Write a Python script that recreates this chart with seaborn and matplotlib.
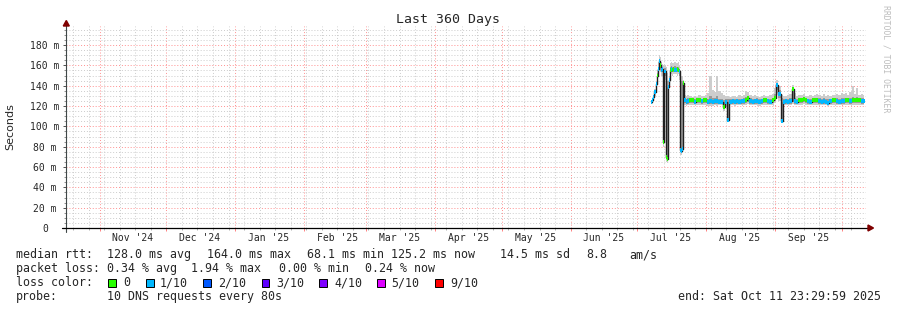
import pandas as pd
import matplotlib
matplotlib.use("Agg")
import matplotlib.pyplot as plt
import matplotlib.dates as mdates
from matplotlib.lines import Line2D
from matplotlib.patches import Polygon, Rectangle
from matplotlib.ticker import FixedLocator, MultipleLocator
import seaborn as sns

# ---------------- data ----------------
END_TIME = "2025-10-11 23:29:59"
SPAN_DAYS = 360
TITLE = "Last 360 Days"
Y_LABEL = "Seconds"
WATERMARK = "RRDTOOL / TOBI OETIKER"

# 12-hourly samples at the start of the measurements
early_start = "2025-07-07 11:30"
early_median = [124, 126, 129, 134, 142, 150, 156, 164, 160, 155,
                156, 85, 154, 70, 68, 139, 146, 155, 156, 155,
                156, 155, 155, 156, 155, 154, 77, 76, 78, 143,
                126, 124]
early_loss = [1, 1, 1, 1, 1, 0, 1, 1, 0, 1,
              1, 0, 1, 0, 0, 1, 1, 0, 1, 0,
              0, 1, 1, 0, 0, 1, 1, 1, 1, 0,
              1, 1]
early_outer_hi = [126, 128, 131, 137, 145, 155, 163, 170, 168, 163,
                  161, 160, 160, 158, 152, 145, 150, 162, 163, 162,
                  162, 163, 162, 162, 163, 160, 155, 150, 150, 146,
                  131, 130]
early_inner_hi = [125, 127, 130, 135, 143, 152, 158, 166, 164, 159,
                  158, 155, 157, 150, 145, 141, 148, 158, 159, 158,
                  158, 159, 158, 158, 158, 156, 150, 145, 145, 144,
                  128, 127]
early_inner_lo = [123, 124, 127, 132, 140, 147, 153, 160, 157, 153,
                  153, 83, 150, 68, 66, 137, 143, 153, 153, 153,
                  153, 153, 153, 153, 153, 150, 75, 74, 76, 141,
                  123, 122]
early_outer_lo = [122, 122, 126, 130, 138, 145, 150, 156, 153, 150,
                  150, 80, 146, 65, 64, 134, 140, 151, 151, 150,
                  151, 151, 151, 150, 151, 146, 72, 72, 74, 139,
                  121, 120]

# daily samples afterwards
late_start = "2025-07-23 23:30"
late_median = [125, 126, 126, 124, 126, 126, 125, 126, 126, 124,
               125, 124, 125, 125, 124, 124, 119, 124, 106, 124,
               125, 124, 125, 124, 125, 125, 126, 128, 125, 124,
               125, 125, 124, 125, 126, 126, 125, 124, 126, 128,
               141, 132, 105, 124, 125, 124, 125, 137, 125, 124,
               126, 126, 127, 126, 125, 124, 126, 126, 126, 125,
               124, 125, 124, 123, 125, 126, 126, 125, 124, 125,
               125, 126, 126, 125, 126, 126, 126, 126, 125, 125]
late_loss = [1, 0, 0, 1, 0, 0, 1, 0, 0, 1,
             1, 1, 1, 1, 1, 1, 0, 1, 1, 1,
             1, 1, 1, 1, 1, 1, 0, 0, 1, 1,
             1, 1, 1, 1, 0, 0, 1, 1, 0, 0,
             1, 1, 1, 1, 1, 1, 1, 0, 1, 1,
             0, 0, 0, 0, 1, 1, 0, 0, 0, 1,
             1, 1, 1, 1, 1, 0, 0, 1, 1, 1,
             1, 0, 0, 1, 0, 0, 0, 0, 1, 1]
late_outer_hi = [131, 130, 129, 130, 129, 131, 130, 130, 131, 133,
                 150, 136, 134, 150, 135, 133, 131, 130, 130, 129,
                 130, 130, 129, 131, 130, 131, 135, 134, 131, 130,
                 131, 130, 129, 130, 131, 130, 130, 131, 132, 138,
                 146, 140, 131, 130, 130, 131, 132, 141, 133, 130,
                 131, 131, 132, 130, 130, 131, 130, 131, 132, 131,
                 130, 132, 130, 131, 130, 131, 131, 132, 131, 133,
                 132, 133, 131, 134, 140, 132, 138, 131, 132, 131]
late_inner_hi = [128, 128, 128, 127, 128, 128, 127, 128, 128, 127,
                 130, 128, 128, 130, 127, 127, 126, 127, 127, 127,
                 127, 127, 127, 127, 127, 128, 129, 130, 128, 127,
                 127, 128, 127, 127, 128, 128, 127, 127, 128, 132,
                 143, 136, 128, 127, 127, 127, 128, 139, 128, 127,
                 128, 128, 129, 128, 127, 127, 128, 128, 128, 128,
                 127, 128, 127, 127, 127, 128, 128, 128, 127, 128,
                 128, 128, 128, 128, 129, 128, 129, 128, 128, 128]
late_inner_lo = [122, 123, 123, 122, 123, 123, 122, 123, 123, 122,
                 122, 122, 122, 122, 122, 122, 117, 122, 105, 122,
                 122, 122, 122, 122, 122, 122, 123, 124, 122, 122,
                 122, 122, 122, 122, 123, 123, 122, 122, 123, 125,
                 136, 128, 104, 122, 122, 122, 122, 124, 122, 122,
                 123, 123, 124, 123, 122, 122, 123, 123, 123, 122,
                 122, 122, 122, 121, 122, 123, 123, 122, 122, 122,
                 122, 123, 123, 122, 123, 123, 123, 123, 122, 122]
late_outer_lo = [121, 121, 121, 121, 121, 121, 121, 121, 121, 120,
                 120, 120, 121, 120, 121, 121, 115, 121, 104, 121,
                 121, 120, 121, 121, 121, 121, 121, 122, 121, 121,
                 121, 121, 120, 121, 121, 121, 121, 121, 121, 123,
                 133, 125, 103, 121, 121, 121, 121, 122, 121, 121,
                 121, 121, 122, 121, 121, 121, 121, 121, 121, 121,
                 121, 121, 121, 120, 121, 121, 121, 121, 121, 121,
                 121, 121, 121, 121, 121, 121, 121, 121, 121, 121]

ytick_values = [0, 20, 40, 60, 80, 100, 120, 140, 160, 180]
ytick_labels = ["0", "20 m", "40 m", "60 m", "80 m", "100 m", "120 m",
                "140 m", "160 m", "180 m"]
month_label_dates = ["2024-11-16", "2024-12-16", "2025-01-16", "2025-02-16",
                     "2025-03-16", "2025-04-16", "2025-05-16", "2025-06-16",
                     "2025-07-16", "2025-08-16", "2025-09-16"]
month_labels = ["Nov '24", "Dec '24", "Jan '25", "Feb '25", "Mar '25", "Apr '25",
                "May '25", "Jun '25", "Jul '25", "Aug '25", "Sep '25"]

loss_labels = ["0", "1/10", "2/10", "3/10", "4/10", "5/10", "9/10"]
loss_colors = ["#26ff00", "#00b8ff", "#0059ff", "#5e00ff", "#7e00ff", "#dd00ff", "#ff0000"]

rtt_items = ["128.0 ms avg", "164.0 ms max", "68.1 ms min", "125.2 ms now",
             "14.5 ms sd", "8.8", "am/s"]
pl_items = ["0.34 % avg", "1.94 % max", "0.00 % min", "0.24 % now"]
probe_text = "10 DNS requests every 80s"
end_text = "end: Sat Oct 11 23:29:59 2025"

# ---------------- frame ----------------
early_t = pd.date_range(early_start, periods=len(early_median), freq="12h")
late_t = pd.date_range(late_start, periods=len(late_median), freq="D")
df = pd.DataFrame({
    "t": mdates.date2num(early_t.append(late_t).to_pydatetime()),
    "median": early_median + late_median,
    "loss": early_loss + late_loss,
    "o_hi": early_outer_hi + late_outer_hi,
    "i_hi": early_inner_hi + late_inner_hi,
    "i_lo": early_inner_lo + late_inner_lo,
    "o_lo": early_outer_lo + late_outer_lo,
    "w": [0.5] * len(early_median) + [1.0] * len(late_median),
})

end = pd.Timestamp(END_TIME)
start = end - pd.Timedelta(days=SPAN_DAYS)
x0, x1 = mdates.date2num(start.to_pydatetime()), mdates.date2num(end.to_pydatetime())

# ---------------- style ----------------
sns.set_style("white")
plt.rcParams["font.family"] = ["DejaVu Sans Mono", "DejaVu Sans"]

W_PX, H_PX = 897, 310


def fx(x):
    return x / W_PX


def fy(y):
    return 1 - y / H_PX


fig = plt.figure(figsize=(W_PX / 100, H_PX / 100), dpi=100)
fig.patch.set_facecolor("white")
AX_L, AX_R, AX_T, AX_B = 66.3, 866.1, 26.2, 228.0
ax = fig.add_axes([fx(AX_L), fy(AX_B), (AX_R - AX_L) / W_PX, (AX_B - AX_T) / H_PX])
ax.set_facecolor("white")

# smoke
ax.fill_between(df["t"], df["o_lo"], df["o_hi"], step="mid", color="#cdcdcd", lw=0, zorder=2)
ax.fill_between(df["t"], df["i_lo"], df["i_hi"], step="mid", color="#9a9a9a", lw=0, zorder=3)
# median line
sns.lineplot(x=df["t"], y=df["median"], ax=ax, color="#202020", linewidth=1.0,
             drawstyle="steps-mid", estimator=None, sort=False, legend=False, zorder=4)
# loss coloured median markers
MARK_H = 3.8
ax.bar(df["t"], MARK_H, bottom=df["median"] - MARK_H / 2, width=df["w"],
       color=[loss_colors[k] for k in df["loss"]], lw=0, zorder=5)

ax.set_xlim(x0, x1)
ax.set_ylim(0, 198.5)
ax.set_xlabel("")
ax.set_ylabel("")
for s in ax.spines.values():
    s.set_visible(False)

# grid
month_starts = pd.date_range("2024-11-01", "2025-10-01", freq="MS")
sundays = pd.date_range("2024-10-20", "2025-10-11", freq="W-SUN")
ax.xaxis.set_major_locator(FixedLocator(mdates.date2num(month_starts.to_pydatetime())))
ax.xaxis.set_minor_locator(FixedLocator(mdates.date2num(sundays.to_pydatetime())))
ax.set_yticks(ytick_values)
ax.set_yticklabels(ytick_labels)
ax.yaxis.set_minor_locator(MultipleLocator(5))
ax.grid(True, which="major", color="#ff9090", ls=(0, (1, 2)), lw=0.7)
ax.grid(True, which="minor", color="#cccccc", ls=(0, (1, 2)), lw=0.7)
ax.set_axisbelow(True)

ax.tick_params(axis="x", which="major", bottom=True, length=2.2, width=0.7,
               color="#ff8080", direction="out", labelbottom=False)
ax.tick_params(axis="x", which="minor", bottom=True, length=1.6, width=0.7,
               color="#b0b0b0", direction="out")
ax.tick_params(axis="y", which="major", left=True, length=2.2, width=0.7,
               color="#505050", direction="out", pad=13.1, labelsize=7)
ax.tick_params(axis="y", which="minor", left=True, length=1.2, width=0.6,
               color="#808080", direction="out")
for lbl in ax.get_yticklabels():
    lbl.set_horizontalalignment("center")

for d, lab in zip(month_label_dates, month_labels):
    ax.annotate(lab, xy=(mdates.date2num(pd.Timestamp(d).to_pydatetime()), 0),
                xycoords=("data", "axes fraction"), xytext=(0, -9.4),
                textcoords="offset points", ha="center", va="baseline", fontsize=7)

# axis lines and arrows
fig.add_artist(Line2D([fx(AX_L), fx(AX_L)], [fy(232), fy(24)], color="#404848",
                      lw=0.8, transform=fig.transFigure, zorder=6))
fig.add_artist(Line2D([fx(62), fx(869)], [fy(AX_B), fy(AX_B)], color="black",
                      lw=0.9, transform=fig.transFigure, zorder=6))
fig.add_artist(Polygon([(fx(AX_L - 3), fy(26)), (fx(AX_L + 3), fy(26)), (fx(AX_L), fy(20.5))],
                       closed=True, color="#7f0000", transform=fig.transFigure, zorder=7))
fig.add_artist(Polygon([(fx(868), fy(225)), (fx(868), fy(231)), (fx(873.5), fy(228))],
                       closed=True, color="#7f0000", transform=fig.transFigure, zorder=7))

# texts
fig.text(fx(448), fy(23.5), TITLE, ha="center", va="baseline", fontsize=9.5)
fig.text(fx(10), fy(126.5), Y_LABEL, rotation=90, ha="center", va="center",
         fontsize=8, family="DejaVu Sans")
fig.text(fx(886), fy(59), WATERMARK, rotation=270, ha="center", va="center",
         fontsize=5.9, color="#bdbdbd")

LFS = 8.4
row_y = [258.3, 272.3, 286.5, 300.3]
fig.text(fx(16), fy(row_y[0]), "median rtt:", va="baseline", fontsize=LFS)
for x, s in zip([107.3, 207.3, 306.7, 390.7, 500, 586, 629], rtt_items):
    fig.text(fx(x), fy(row_y[0]), s, va="baseline", fontsize=LFS)
fig.text(fx(16), fy(row_y[1]), "packet loss:", va="baseline", fontsize=LFS)
for x, s in zip([107.3, 191, 279, 365], pl_items):
    fig.text(fx(x), fy(row_y[1]), s, va="baseline", fontsize=LFS)
fig.text(fx(16), fy(row_y[2]), "loss color:", va="baseline", fontsize=LFS)
box_x = [108.3, 146, 203.3, 261.7, 319.3, 377.3, 435]
lab_x = [123.3, 160, 218.3, 276, 334, 391.7, 450]
for bx, lx, lab, col in zip(box_x, lab_x, loss_labels, loss_colors):
    fig.add_artist(Rectangle((fx(bx), fy(286.5)), 7.5 / W_PX, 7.5 / H_PX,
                             facecolor=col, edgecolor="black", lw=0.7,
                             transform=fig.transFigure))
    fig.text(fx(lx), fy(row_y[2]), lab, va="baseline", fontsize=LFS)
fig.text(fx(16), fy(row_y[3]), "probe:", va="baseline", fontsize=LFS)
fig.text(fx(107.3), fy(row_y[3]), probe_text, va="baseline", fontsize=LFS)
fig.text(fx(881), fy(row_y[3]), end_text, ha="right", va="baseline", fontsize=LFS)

fig.savefig("out.png", dpi=100, facecolor="white")
